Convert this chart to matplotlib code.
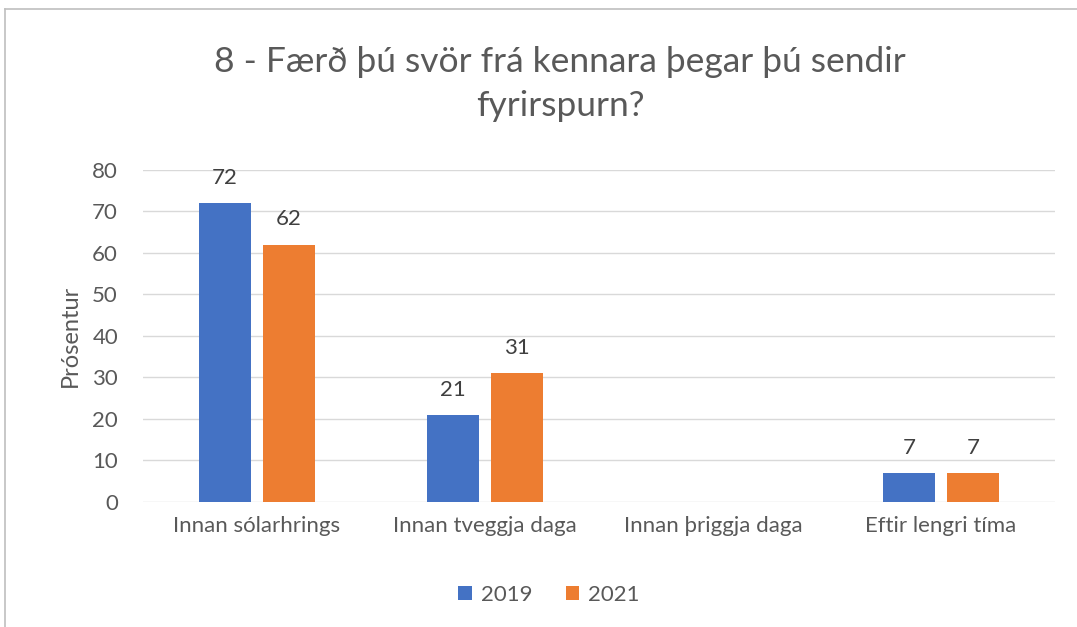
import matplotlib.pyplot as plt
import matplotlib.lines as mlines
import numpy as np

categories = ['Innan sólarhrings', 'Innan tveggja daga', 'Innan þriggja daga', 'Eftir lengri tíma']
years = ['2019', '2021']
values_2019 = [72, 21, np.nan, 7]
values_2021 = [62, 31, np.nan, 7]

plt.rcParams['font.family'] = ['Lato', 'DejaVu Sans']
txt = '#595959'

fig = plt.figure(figsize=(10.77, 6.27), dpi=100)
ax = fig.add_axes([0.1328, 0.1994, 0.8468, 0.5295])

x = np.arange(len(categories))
w = 0.225
off = 0.14
b1 = ax.bar(x - off, values_2019, w, color='#4472C4', label=years[0], zorder=3)
b2 = ax.bar(x + off, values_2021, w, color='#ED7D31', label=years[1], zorder=3)

for bars, vals in ((b1, values_2019), (b2, values_2021)):
    for bar, v in zip(bars, vals):
        if np.isnan(v):
            continue
        ax.annotate(f'{v:g}', (bar.get_x() + bar.get_width() / 2, v),
                    xytext=(0, 11), textcoords='offset points',
                    ha='center', va='bottom', fontsize=16, color='#404040')

ax.set_xlim(-0.5, 3.5)
ax.set_ylim(0, 80)
ax.set_yticks(range(0, 81, 10))
ax.set_xticks(x)
ax.set_xticklabels(categories)
ax.tick_params(axis='both', length=0, labelsize=16, labelcolor=txt)
ax.tick_params(axis='x', pad=10)
ax.tick_params(axis='y', pad=18)
ax.grid(axis='y', color='#d9d9d9', linewidth=1, zorder=0)
for s in ax.spines.values():
    s.set_visible(False)
ax.set_ylabel('Prósentur', fontsize=17, color=txt, labelpad=8)

fig.text(0.52, 0.866, '8 - Færð þú svör frá kennara þegar þú sendir\nfyrirspurn?',
         ha='center', va='center', fontsize=25.5, color=txt, linespacing=1.45)

ax.legend(loc='center', bbox_to_anchor=(0.445, -0.28), ncol=2, frameon=False,
          fontsize=16, labelcolor=txt, handlelength=0.6, handleheight=0.6,
          handletextpad=0.4, columnspacing=1.5)

# chart frame
fig.add_artist(mlines.Line2D([0.005, 1.0], [0.985, 0.985], color='#bfbfbf', lw=1.2))
fig.add_artist(mlines.Line2D([0.005, 0.005], [0.0, 0.985], color='#bfbfbf', lw=1.2))

fig.savefig('out.png', dpi=100)
